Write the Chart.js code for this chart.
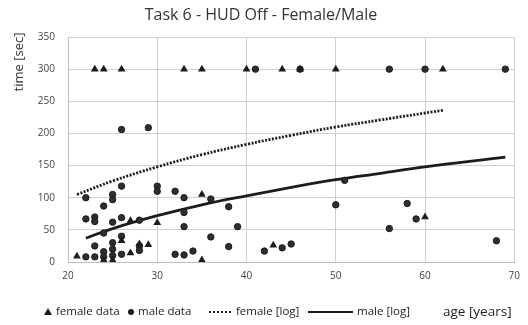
<!DOCTYPE html>
<html>
<head>
<meta charset="utf-8">
<script src="https://cdn.jsdelivr.net/npm/chart.js@4/dist/chart.umd.min.js"></script>
<style>
  html, body { margin: 0; padding: 0; background: #fff; }
  #wrap { width: 528px; height: 325px; }
</style>
</head>
<body>
<div id="wrap"><canvas id="chart" width="528" height="325"></canvas></div>
<script>
const femaleAge = [23, 24, 26, 33, 35, 40, 44, 46, 50, 62, 21, 24, 25, 26, 27, 27, 28, 29, 30, 35, 35, 43, 60];
const femaleTime = [300, 300, 300, 300, 300, 300, 300, 300, 300, 300, 9, 3, 3, 33, 14, 64, 28, 27, 61, 105, 3, 26, 70];

const maleAge = [41, 46, 56, 60, 69, 26, 29, 22, 23, 22, 22, 23, 23, 23, 24, 24, 24, 24, 25, 25, 25, 25, 25, 25,
  26, 26, 26, 26, 28, 28, 28, 30, 30, 32, 32, 33, 33, 33, 33, 34, 36, 36, 38, 38, 39, 42, 44, 45, 50, 51, 56, 58, 59, 68];
const maleTime = [300, 300, 300, 300, 300, 206, 209, 8, 8, 100, 67, 70, 63, 25, 87, 45, 16, 8, 105, 97, 62, 30, 20, 10,
  118, 69, 40, 12, 65, 25, 18, 118, 110, 110, 12, 100, 77, 55, 11, 17, 98, 39, 86, 24, 55, 17, 22, 28, 89, 127, 52, 91, 67, 33];

const femaleLogAge = [21, 25, 30, 35, 40, 45, 50, 55, 62];
const femaleLogTime = [105, 126, 148, 167, 183, 197, 210, 221, 236];
const maleLogAge = [22, 25, 30, 35, 40, 45, 50, 55, 60, 69];
const maleLogTime = [37, 52, 72, 89, 103, 116, 128, 138, 148, 163];

const xTicks = [20, 30, 40, 50, 60, 70];
const yTicks = [0, 50, 100, 150, 200, 250, 300, 350];

const pts = (xs, ys) => xs.map((x, i) => ({ x: x, y: ys[i] }));
const ink = "#1c1c1c";
const font = "'Open Sans', 'Noto Sans', sans-serif";

const textPlugin = {
  id: "texts",
  afterDraw(chart) {
    const c = chart.ctx;
    c.save();
    c.fillStyle = "#333";
    c.textBaseline = "middle";
    c.font = "16px " + font;
    c.textAlign = "center";
    c.fillText("Task 6 - HUD Off - Female/Male", 261, 15);

    c.save();
    c.translate(19, 62);
    c.rotate(-Math.PI / 2);
    c.font = "13px " + font;
    c.fillText("time [sec]", 0, 0);
    c.restore();

    // legend
    const y = 312;
    c.font = "11.5px " + font;
    c.textAlign = "left";
    c.fillStyle = ink;
    c.beginPath();
    c.moveTo(44, y + 3); c.lineTo(48, y - 4); c.lineTo(52, y + 3); c.closePath();
    c.fill();
    c.fillText("female data", 56, y);
    c.beginPath();
    c.arc(131, y, 3, 0, Math.PI * 2);
    c.fill();
    c.fillText("male data", 138, y);
    c.strokeStyle = ink;
    c.lineWidth = 2;
    c.setLineDash([2, 2]);
    c.beginPath(); c.moveTo(209, y); c.lineTo(232, y); c.stroke();
    c.setLineDash([]);
    c.fillText("female [log]", 236, y);
    c.beginPath(); c.moveTo(308, y); c.lineTo(353, y); c.stroke();
    c.fillText("male [log]", 357, y);
    c.font = "13.5px " + font;
    c.fillText("age [years]", 443, y);
    c.restore();
  }
};

new Chart(document.getElementById("chart"), {
  type: "scatter",
  data: {
    datasets: [
      {
        label: "female data",
        data: pts(femaleAge, femaleTime),
        pointStyle: "triangle",
        pointRadius: 4.5,
        backgroundColor: ink,
        borderColor: ink,
        borderWidth: 0
      },
      {
        label: "male data",
        data: pts(maleAge, maleTime),
        pointStyle: "circle",
        pointRadius: 3.2,
        backgroundColor: "#2e2e2e",
        borderColor: ink,
        borderWidth: 1
      },
      {
        label: "female [log]",
        type: "line",
        data: pts(femaleLogAge, femaleLogTime),
        borderColor: ink,
        borderWidth: 2.8,
        borderDash: [2, 1.5],
        pointRadius: 0,
        tension: 0.4,
        fill: false
      },
      {
        label: "male [log]",
        type: "line",
        data: pts(maleLogAge, maleLogTime),
        borderColor: ink,
        borderWidth: 2.8,
        pointRadius: 0,
        tension: 0.4,
        fill: false
      }
    ]
  },
  options: {
    responsive: false,
    animation: false,
    layout: { padding: { left: 0, right: 11, top: 37, bottom: 38 } },
    plugins: { legend: { display: false }, title: { display: false }, tooltip: { enabled: false } },
    scales: {
      x: {
        type: "linear",
        min: 20,
        max: 70,
        afterBuildTicks: (s) => { s.ticks = xTicks.map(v => ({ value: v })); },
        afterFit: (s) => { s.height = 25; },
        grid: { color: "#cfcfcf", drawTicks: false },
        border: { color: "#bdbdbd" },
        ticks: { color: "#444", font: { size: 10, family: font }, padding: 8 }
      },
      y: {
        min: 0,
        max: 350,
        afterBuildTicks: (s) => { s.ticks = yTicks.map(v => ({ value: v })); },
        afterFit: (s) => { s.width = 68; },
        grid: { color: "#cfcfcf", drawTicks: false },
        border: { color: "#bdbdbd" },
        ticks: { color: "#444", font: { size: 10, family: font }, padding: 13 }
      }
    }
  },
  plugins: [textPlugin]
});
</script>
</body>
</html>
